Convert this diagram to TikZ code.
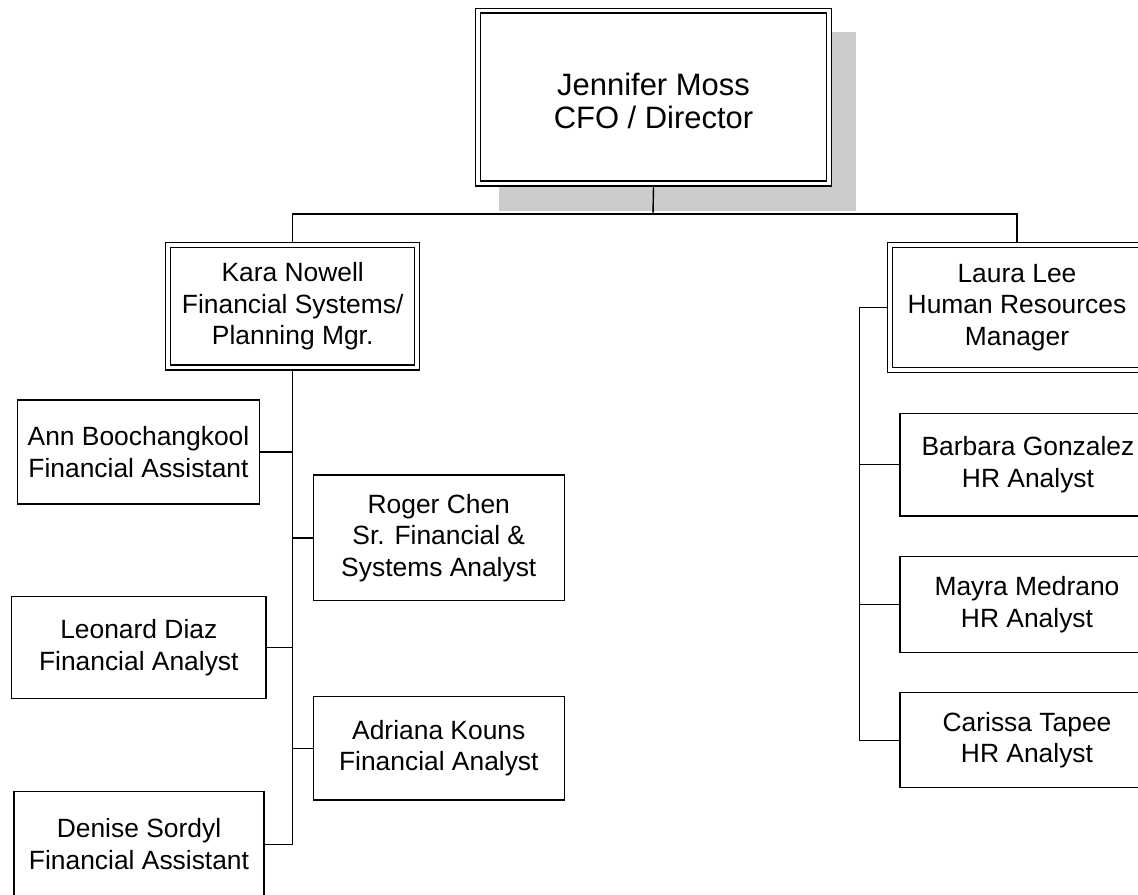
\documentclass[tikz,border=0pt]{standalone}
\usepackage{fontspec}
\setmainfont{Liberation Sans}
\definecolor{shadowgray}{RGB}{204,204,204}

\begin{document}
\begin{tikzpicture}[x=0.75pt,y=0.75pt,yscale=-1,xscale=1,
    every node/.style={inner sep=0pt, align=center, font=\fontsize{19.8}{23.75}\selectfont},
    staffbox/.style={draw, fill=white, line width=0.95pt, outer sep=0.45pt},
    mgrbox/.style={draw, fill=white, line width=1.1pt, double, double distance=2.6pt, outer sep=2.4pt},
    link/.style={line width=1.05pt}]
    \useasboundingbox (0,0) rectangle (1138,894);

    %Shadow of top box
    \fill[shadowgray] (499,32) rectangle (856,211);

    % Text Node
    \node[mgrbox, minimum width=263.25pt, minimum height=129.45pt, font=\fontsize{23.2}{25}\selectfont] (moss) at (653.5,97) {\rule{0pt}{23pt}Jennifer Moss\\CFO / Director};
    % Text Node
    \node[mgrbox, minimum width=186.75pt, minimum height=91.9pt] (nowell) at (292.7,306.2) {Kara Nowell\\Financial Systems/\\Planning Mgr.};
    % Text Node
    \node[mgrbox, minimum width=190.65pt, minimum height=93.9pt] (lee) at (1017,307.6) {Laura Lee\\Human Resources\\Manager};

    % Text Node
    \node[staffbox, minimum width=181.2pt, minimum height=78pt] (boochangkool) at (138.5,452) {Ann Boochangkool\\Financial Assistant};
    % Text Node
    \node[staffbox, minimum width=190.7pt, minimum height=76.2pt] (diaz) at (138.8,647.5) {Leonard Diaz\\Financial Analyst};
    % Text Node
    \node[staffbox, minimum width=187.5pt, minimum height=78.9pt] (sordyl) at (139,844.3) {Denise Sordyl\\Financial Assistant};
    % Text Node
    \node[staffbox, minimum width=188.25pt, minimum height=94.3pt] (chen) at (438.8,537.9) {Roger Chen\\Sr. Financial \&\\Systems Analyst};
    % Text Node
    \node[staffbox, minimum width=188.25pt, minimum height=77.5pt] (kouns) at (438.8,748.3) {Adriana Kouns\\Financial Analyst};

    % Text Node
    \node[staffbox, minimum width=192pt, minimum height=77pt] (gonzalez) at (1028,464.7) {Barbara Gonzalez\\HR Analyst};
    % Text Node
    \node[staffbox, minimum width=190.5pt, minimum height=71.7pt] (medrano) at (1027,604.5) {Mayra Medrano\\HR Analyst};
    % Text Node
    \node[staffbox, minimum width=190.5pt, minimum height=71.25pt] (tapee) at (1027,740.2) {Carissa Tapee\\HR Analyst};

    %Connectors from the director
    \coordinate (topbus) at (653,214);
    \draw[link] (moss.south) -- (topbus);
    \draw[link] (nowell.north) |- (topbus) -| (lee.north);

    %Connectors of the planning team
    \draw[link] (nowell.south) |- (sordyl.east);
    \draw[link] (nowell.south |- boochangkool.east) -- (boochangkool.east);
    \draw[link] (nowell.south |- diaz.east) -- (diaz.east);
    \draw[link] (nowell.south |- chen.west) -- (chen.west);
    \draw[link] (nowell.south |- kouns.west) -- (kouns.west);

    %Connectors of the HR team
    \coordinate (hrbus) at (859.3,0);
    \draw[link] (lee.west) -| (hrbus |- tapee.west) -- (tapee.west);
    \draw[link] (hrbus |- gonzalez.west) -- (gonzalez.west);
    \draw[link] (hrbus |- medrano.west) -- (medrano.west);
\end{tikzpicture}
\end{document}
